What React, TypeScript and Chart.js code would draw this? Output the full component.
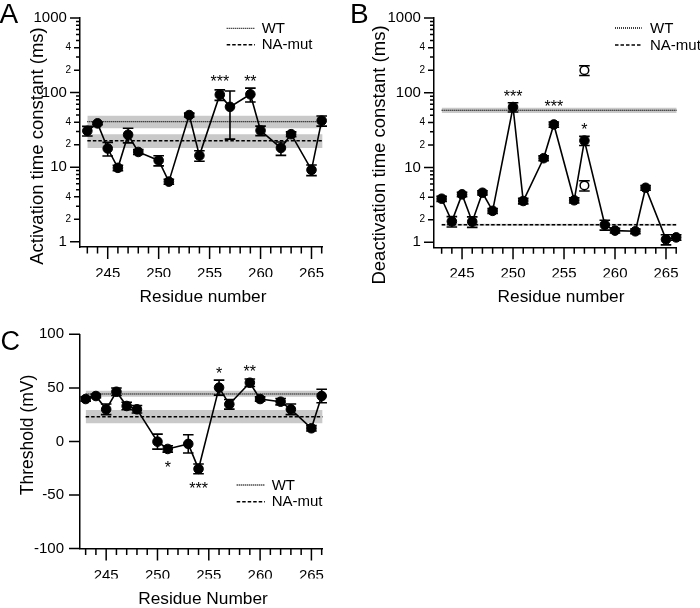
import React, { useEffect, useRef } from 'react';
import { Chart, registerables } from 'chart.js';

Chart.register(...registerables);

const FONT = '"Liberation Sans", Arial, Helvetica, sans-serif';
Chart.defaults.font.family = FONT;
Chart.defaults.color = '#000';

// ---------------- data ----------------
const RESIDUES = [243, 244, 245, 246, 247, 248, 250, 251, 253, 254, 256, 257, 259, 260, 262, 263, 265, 266];

const ACT_TAU = [30.7, 38.7, 17.8, 9.8, 27.2, 16.0, 12.3, 6.4, 50, 14.3, 93.7, 64.4, 94.8, 31, 18.1, 27.7, 9.2, 42];
const ACT_SEM = [4.5, 1.5, 3.7, 0.8, 6, 1.2, 1.9, 0.5, 3, 2.3, 15, 40.6, 20, 4.5, 3.7, 2, 1.5, 6.5];

const DEACT_TAU = [3.82, 1.9, 4.37, 1.88, 4.59, 2.63, 64.4, 3.56, 13.3, 37.6, 3.64, 22.9, 1.71, 1.43, 1.4, 5.35, 1.09, 1.16];
const DEACT_SEM = [0.3, 0.3, 0.3, 0.3, 0.3, 0.2, 9.2, 0.3, 1, 3, 0.3, 3.2, 0.26, 0.1, 0.1, 0.4, 0.17, 0.1];

const DEACT_ALT_RESIDUES = [257, 257];
const DEACT_ALT_TAU = [200, 5.75];
const DEACT_ALT_SEM = [30, 0.9];

const THRESHOLD = [39.6, 42.4, 30.0, 46.4, 33.1, 30.0, -0.2, -7, -2.3, -25.6, 50.2, 34.7, 54.8, 39.6, 37.1, 30, 12.3, 42.4];
const THRESHOLD_SEM = [2, 1.5, 5, 3.5, 3.5, 3.5, 7, 3, 8.5, 4.5, 7, 4.5, 3.5, 2, 3, 5, 2.5, 6.3];

const REF_LABELS = ['WT', 'NA-mut'];
const REF_SPAN = [243, 266.1];
const ACT_REF_MEAN = [40.8, 22.6];
const ACT_REF_LOW = [33.3, 18.1];
const ACT_REF_HIGH = [49, 27.7];
const DEACT_REF_MEAN = [58.2, 1.71];
const DEACT_REF_LOW = [53.5, 1.66];
const DEACT_REF_HIGH = [63, 1.77];
const THRESHOLD_REF_MEAN = [44.3, 23.1];
const THRESHOLD_REF_LOW = [41.8, 17];
const THRESHOLD_REF_HIGH = [47.4, 29.4];

const ACT_STARS = [
  { residue: 256, level: 160, text: '***' },
  { residue: 259, level: 160, text: '**' },
];
const DEACT_STARS = [
  { residue: 250, level: 100, text: '***' },
  { residue: 254, level: 72.8, text: '***' },
  { residue: 257, level: 36.1, text: '*' },
];
const THRESHOLD_STARS = [
  { residue: 256, level: 66.7, text: '*' },
  { residue: 259, level: 69.2, text: '**' },
  { residue: 251, level: -20.3, text: '*' },
  { residue: 254, level: -40.6, text: '***' },
];

// tick labels
const X_TICKS = [243, 244, 245, 246, 247, 248, 249, 250, 251, 252, 253, 254, 255, 256, 257, 258, 259, 260, 261, 262, 263, 264, 265, 266];
const X_TICK_LABELS = [245, 250, 255, 260, 265];
const LOG_TICKS = [1, 2, 3, 4, 5, 6, 7, 8, 9, 10, 20, 30, 40, 50, 60, 70, 80, 90, 100, 200, 300, 400, 500, 600, 700, 800, 900, 1000];
const LOG_MAJOR = [1, 10, 100, 1000];
const LOG_MINOR_LABELED = [2, 4, 20, 40, 200, 400];
const LOG_MINOR_TEXT = ['2', '4', '2', '4', '2', '4'];
const LIN_TICKS = [-100, -50, 0, 50, 100];

const NBSP = '\u00a0';
const Y_SCALE_WIDTH = 65;

const logLabel = (v: number) => {
  if (LOG_MAJOR.includes(v)) return String(v) + NBSP;
  const i = LOG_MINOR_LABELED.indexOf(v);
  return i >= 0 ? LOG_MINOR_TEXT[i] : '';
};
const logFont = (v: number) => (LOG_MAJOR.includes(v) ? 15 : 10);
const logLen = (v: number) => (LOG_MAJOR.includes(v) ? 10 : LOG_MINOR_LABELED.includes(v) ? 6 : 4);

interface Series { x: number[]; y: number[]; sem: number[] }
interface Panel {
  letter: string; letterX: number; letterY: number; letterSize: number;
  area: { left: number; right: number; top: number; bottom: number };
  xMin: number; xMax: number;
  log: boolean; yMin: number; yMax: number; yTicks: number[];
  yLabel: (v: number) => string; yFont: (v: number) => number; yLen: (v: number) => number; yPad: number;
  series: Series; alt?: Series;
  refMean: number[]; refLow: number[]; refHigh: number[];
  stars: { residue: number; level: number; text: string }[];
  yTitle: string; yTitleX: number; yTitleY: number; yTitleSize: number;
  xTitle: string; xTitleX: number; xTitleY: number; xTitleSize: number;
  legend: { x0: number; x1: number; xt: number; y: number[] };
}

const PANELS: Panel[] = [
  {
    letter: 'A', letterX: -0.5, letterY: 23, letterSize: 28,
    area: { left: 80, right: 322.7, top: 15, bottom: 247 },
    xMin: 242.28, xMax: 266.1,
    log: true, yMin: 0.851, yMax: 1000, yTicks: LOG_TICKS,
    yLabel: logLabel, yFont: logFont, yLen: logLen, yPad: 9,
    series: { x: RESIDUES, y: ACT_TAU, sem: ACT_SEM },
    refMean: ACT_REF_MEAN, refLow: ACT_REF_LOW, refHigh: ACT_REF_HIGH,
    stars: ACT_STARS,
    yTitle: 'Activation time constant (ms)', yTitleX: 43, yTitleY: 146, yTitleSize: 18.5,
    xTitle: 'Residue number', xTitleX: 203, xTitleY: 297, xTitleSize: 17.3,
    legend: { x0: 226.7, x1: 255, xt: 261.7, y: [28.3, 44.8] },
  },
  {
    letter: 'B', letterX: 350, letterY: 23, letterSize: 28,
    area: { left: 434, right: 676.7, top: 15, bottom: 247.3 },
    xMin: 242.25, xMax: 266.05,
    log: true, yMin: 0.855, yMax: 1000, yTicks: LOG_TICKS,
    yLabel: logLabel, yFont: logFont, yLen: logLen, yPad: 9,
    series: { x: RESIDUES, y: DEACT_TAU, sem: DEACT_SEM },
    alt: { x: DEACT_ALT_RESIDUES, y: DEACT_ALT_TAU, sem: DEACT_ALT_SEM },
    refMean: DEACT_REF_MEAN, refLow: DEACT_REF_LOW, refHigh: DEACT_REF_HIGH,
    stars: DEACT_STARS,
    yTitle: 'Deactivation time constant (ms)', yTitleX: 385, yTitleY: 155, yTitleSize: 18.5,
    xTitle: 'Residue number', xTitleX: 561, xTitleY: 297, xTitleSize: 17.3,
    legend: { x0: 615, x1: 641.7, xt: 650, y: [28, 45] },
  },
  {
    letter: 'C', letterX: 0.5, letterY: 349.5, letterSize: 27,
    area: { left: 80, right: 322.7, top: 334.3, bottom: 548.6 },
    xMin: 242.45, xMax: 266.1,
    log: false, yMin: -100, yMax: 100, yTicks: LIN_TICKS,
    yLabel: (v: number) => String(v), yFont: () => 15, yLen: () => 11, yPad: 16,
    series: { x: RESIDUES, y: THRESHOLD, sem: THRESHOLD_SEM },
    refMean: THRESHOLD_REF_MEAN, refLow: THRESHOLD_REF_LOW, refHigh: THRESHOLD_REF_HIGH,
    stars: THRESHOLD_STARS,
    yTitle: 'Threshold (mV)', yTitleX: 32.8, yTitleY: 435, yTitleSize: 17.5,
    xTitle: 'Residue Number', xTitleX: 203, xTitleY: 599, xTitleSize: 17.3,
    legend: { x0: 236.7, x1: 265, xt: 271.7, y: [485, 501.7] },
  },
];

const CAP = 5.3;
const REF_DASH = [[1, 1], [3.5, 2]];
const REF_WIDTH = [1.3, 1.5];
const BAND_COLOR = '#c9c9c9';

function drawErrorBars(chart: any, s: Series, log: boolean) {
  const { ctx } = chart;
  const sx = chart.scales.x;
  const sy = chart.scales.y;
  ctx.save();
  ctx.strokeStyle = '#000';
  ctx.lineWidth = 1.6;
  ctx.setLineDash([]);
  for (let i = 0; i < s.x.length; i++) {
    const px = sx.getPixelForValue(s.x[i]);
    const hi = s.y[i] + s.sem[i];
    let lo = s.y[i] - s.sem[i];
    if (log && lo <= 0) lo = s.y[i] * 0.01;
    const pHi = sy.getPixelForValue(hi);
    const pLo = sy.getPixelForValue(lo);
    ctx.beginPath();
    ctx.moveTo(px, pHi); ctx.lineTo(px, pLo);
    ctx.moveTo(px - CAP, pHi); ctx.lineTo(px + CAP, pHi);
    ctx.moveTo(px - CAP, pLo); ctx.lineTo(px + CAP, pLo);
    ctx.stroke();
  }
  ctx.restore();
}

function buildConfig(p: Panel): any {
  const datasets: any[] = [];
  datasets.push({
    label: p.yTitle,
    data: p.series.x.map((x, i) => ({ x, y: p.series.y[i] })),
    borderColor: '#000', borderWidth: 1.6, tension: 0,
    pointRadius: 4.8, pointBackgroundColor: '#000', pointBorderColor: '#000', pointBorderWidth: 1,
    clip: false, order: 0, fill: false,
  });
  let altIndex = -1;
  if (p.alt) {
    altIndex = datasets.length;
    datasets.push({
      label: 'alt',
      data: p.alt.x.map((x, i) => ({ x, y: p.alt!.y[i] })),
      showLine: false,
      pointRadius: 4.3, pointBackgroundColor: '#fff', pointBorderColor: '#000', pointBorderWidth: 1.5,
      clip: false, order: 0, fill: false,
    });
  }
  REF_LABELS.forEach((name, k) => {
    datasets.push({
      label: name,
      data: REF_SPAN.map((x) => ({ x, y: p.refMean[k] })),
      borderColor: '#000', borderWidth: REF_WIDTH[k], borderDash: REF_DASH[k],
      pointRadius: 0, order: 1, fill: false,
    });
  });
  REF_LABELS.forEach((name, k) => {
    const lowIndex = datasets.length;
    datasets.push({
      label: name + ' low',
      data: REF_SPAN.map((x) => ({ x, y: p.refLow[k] })),
      borderWidth: 0, borderColor: 'rgba(0,0,0,0)', pointRadius: 0, order: 2, fill: false,
    });
    datasets.push({
      label: name + ' high',
      data: REF_SPAN.map((x) => ({ x, y: p.refHigh[k] })),
      borderWidth: 0, borderColor: 'rgba(0,0,0,0)', pointRadius: 0, order: 2,
      fill: lowIndex, backgroundColor: BAND_COLOR,
    });
  });

  const a = p.area;
  const decor = {
    id: 'decor' + p.letter,
    beforeDatasetDraw(chart: any, args: any) {
      if (args.index === 0) drawErrorBars(chart, p.series, p.log);
      if (args.index === altIndex && p.alt) drawErrorBars(chart, p.alt, p.log);
    },
    afterDraw(chart: any) {
      const { ctx } = chart;
      const sx = chart.scales.x;
      const sy = chart.scales.y;
      const ca = chart.chartArea;
      ctx.save();
      ctx.strokeStyle = '#000';
      ctx.fillStyle = '#000';
      ctx.lineWidth = 1.5;
      ctx.setLineDash([]);
      // tick marks
      ctx.beginPath();
      for (const t of X_TICKS) {
        const px = sx.getPixelForValue(t);
        const len = X_TICK_LABELS.includes(t) ? 12 : 6.5;
        ctx.moveTo(px, ca.bottom);
        ctx.lineTo(px, ca.bottom + len);
      }
      for (const t of p.yTicks) {
        const py = sy.getPixelForValue(t);
        ctx.moveTo(ca.left - p.yLen(t), py);
        ctx.lineTo(ca.left, py);
      }
      ctx.stroke();

      // legend
      REF_LABELS.forEach((name, k) => {
        ctx.save();
        ctx.lineWidth = REF_WIDTH[k];
        ctx.setLineDash(REF_DASH[k]);
        ctx.beginPath();
        ctx.moveTo(p.legend.x0, p.legend.y[k]);
        ctx.lineTo(p.legend.x1, p.legend.y[k]);
        ctx.stroke();
        ctx.restore();
        ctx.font = `15px ${FONT}`;
        ctx.textAlign = 'left';
        ctx.textBaseline = 'middle';
        ctx.fillText(name, p.legend.xt, p.legend.y[k] + 0.5);
      });

      // stars
      ctx.font = `16px ${FONT}`;
      ctx.textAlign = 'center';
      ctx.textBaseline = 'alphabetic';
      for (const s of p.stars) {
        const px = sx.getPixelForValue(s.residue);
        const py = sy.getPixelForValue(s.level);
        ctx.fillText(s.text, px, py + 9.3);
      }

      // panel letter
      ctx.font = `${p.letterSize}px ${FONT}`;
      ctx.textAlign = 'left';
      ctx.fillText(p.letter, p.letterX, p.letterY);

      // x title
      ctx.font = `${p.xTitleSize}px ${FONT}`;
      ctx.textAlign = 'center';
      ctx.textBaseline = 'middle';
      ctx.fillText(p.xTitle, p.xTitleX, p.xTitleY);

      // y title
      ctx.save();
      ctx.translate(p.yTitleX, p.yTitleY);
      ctx.rotate(-Math.PI / 2);
      ctx.font = `${p.yTitleSize}px ${FONT}`;
      ctx.textAlign = 'center';
      ctx.textBaseline = 'alphabetic';
      ctx.fillText(p.yTitle, 0, 0);
      ctx.restore();

      ctx.restore();
    },
  };

  return {
    type: 'line',
    data: { datasets },
    plugins: [decor],
    options: {
      responsive: false,
      animation: false,
      devicePixelRatio: 1,
      events: [],
      layout: {
        padding: { left: a.left - Y_SCALE_WIDTH, top: a.top, right: 700 - a.right, bottom: 608 - a.bottom - 30 },
      },
      plugins: { legend: { display: false }, tooltip: { enabled: false }, title: { display: false } },
      scales: {
        x: {
          type: 'linear', min: p.xMin, max: p.xMax, bounds: 'data', offset: false,
          grid: { display: false, drawTicks: false },
          border: { display: true, color: '#000', width: 1.5 },
          afterFit: (s: any) => { s.height = 30; },
          afterBuildTicks: (s: any) => { s.ticks = X_TICKS.map((v) => ({ value: v })); },
          ticks: {
            autoSkip: false, maxRotation: 0, minRotation: 0, padding: 18,
            font: { size: 15, family: FONT }, color: '#000',
            callback: (v: number) => (X_TICK_LABELS.includes(v) ? String(v) : ''),
          },
        },
        y: {
          type: p.log ? 'logarithmic' : 'linear', min: p.yMin, max: p.yMax, bounds: 'data',
          grid: { display: false, drawTicks: false },
          border: { display: true, color: '#000', width: 1.5 },
          afterFit: (s: any) => { s.width = Y_SCALE_WIDTH; },
          afterBuildTicks: (s: any) => { s.ticks = p.yTicks.map((v) => ({ value: v })); },
          ticks: {
            autoSkip: false, padding: p.yPad, color: '#000',
            font: (c: any) => ({ size: p.yFont(c.tick ? c.tick.value : 0), family: FONT }),
            callback: (v: number) => p.yLabel(v),
          },
        },
      },
    },
  };
}

export default function App() {
  const r0 = useRef<HTMLCanvasElement>(null);
  const r1 = useRef<HTMLCanvasElement>(null);
  const r2 = useRef<HTMLCanvasElement>(null);
  useEffect(() => {
    const refs = [r0, r1, r2];
    const charts = PANELS.map((p, i) => new Chart(refs[i].current as HTMLCanvasElement, buildConfig(p)));
    return () => charts.forEach((c) => c.destroy());
  }, []);
  const cs: React.CSSProperties = { position: 'absolute', left: 0, top: 0, width: 700, height: 608 };
  return (
    <div style={{ position: 'fixed', left: 0, top: 0, width: 700, height: 608, background: '#fff', overflow: 'hidden' }}>
      <canvas ref={r0} width={700} height={608} style={cs} />
      <canvas ref={r1} width={700} height={608} style={cs} />
      <canvas ref={r2} width={700} height={608} style={cs} />
    </div>
  );
}
